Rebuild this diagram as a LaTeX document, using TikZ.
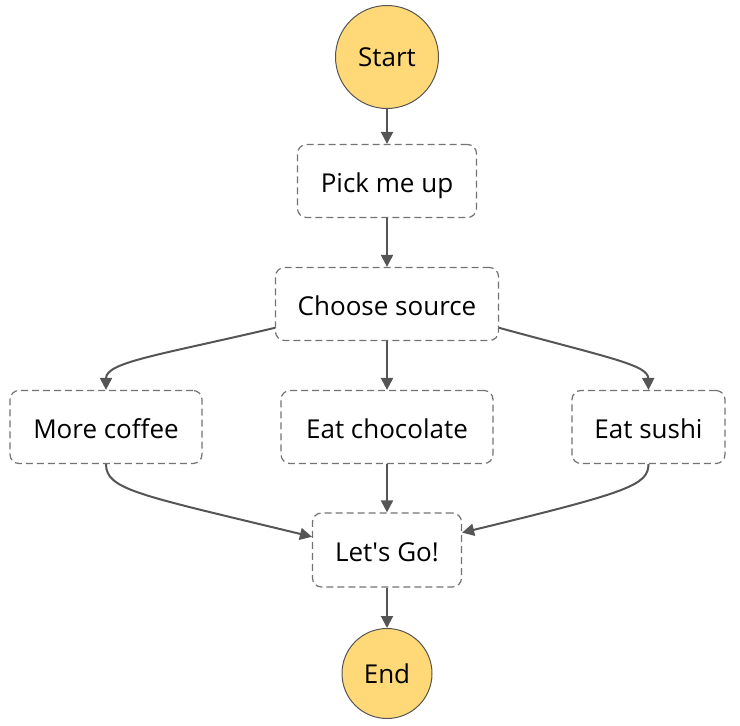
\documentclass[tikz,border=0pt]{standalone}
\usepackage{fontspec}
\setmainfont{Open Sans}
\usetikzlibrary{arrows.meta}
\definecolor{termfill}{RGB}{255,217,120}
\definecolor{edgegray}{RGB}{85,85,85}
\definecolor{boxgray}{RGB}{115,115,115}
\tikzset{
	terminal/.style={circle,draw=edgegray,line width=1pt,fill=termfill,inner sep=0pt,
		text height=19pt,text depth=0pt,font=\fontsize{26}{30}\selectfont},
	task/.style={draw=boxgray,dash pattern=on 7pt off 4pt,line width=1.2pt,
		rounded corners=9pt,minimum height=73pt,inner sep=0pt,
		text height=23pt,text depth=0pt,font=\fontsize{26}{30}\selectfont},
	flow/.style={draw=edgegray,line width=2pt,-{Triangle[length=12pt,width=12pt]}}
}
\begin{document}
\begin{tikzpicture}[x=1pt,y=-1pt]
	\useasboundingbox (0,0) rectangle (740,726);
	\node[terminal,minimum size=103pt](start) at (387,57) {Start};
	\node[task,minimum width=179pt](pick) at (387,181) {Pick me up};
	\node[task,minimum width=223pt](choose) at (387,304) {Choose source};
	\node[task,minimum width=192pt](coffee) at (106,427) {More coffee};
	\node[task,minimum width=212pt](choc) at (387,427) {Eat chocolate};
	\node[task,minimum width=153pt](sushi) at (648.5,427) {Eat sushi};
	\node[task,minimum width=149pt,minimum height=74pt](lets) at (387,550) {Let\textquotesingle s Go!};
	\node[terminal,minimum size=90pt](end) at (387,673.5) {End};
	\draw[flow](start.south)--(pick.north);
	\draw[flow](pick.south)--(choose.north);
	\draw[flow](choose.south)--(choc.north);
	\draw[flow](choc.south)--(lets.north);
	\draw[flow](lets.south)--(end.north);
	\draw[flow](choose.192) .. controls (160,355) and (106,362) .. (coffee.north);
	\draw[flow](choose.-12) .. controls (610,358) and (648,365) .. (sushi.north);
	\draw[flow](coffee.south) .. controls (106,490) and (140,495) .. (lets.170);
	\draw[flow](sushi.south) .. controls (648,485) and (630,492) .. (lets.13);
\end{tikzpicture}
\end{document}
